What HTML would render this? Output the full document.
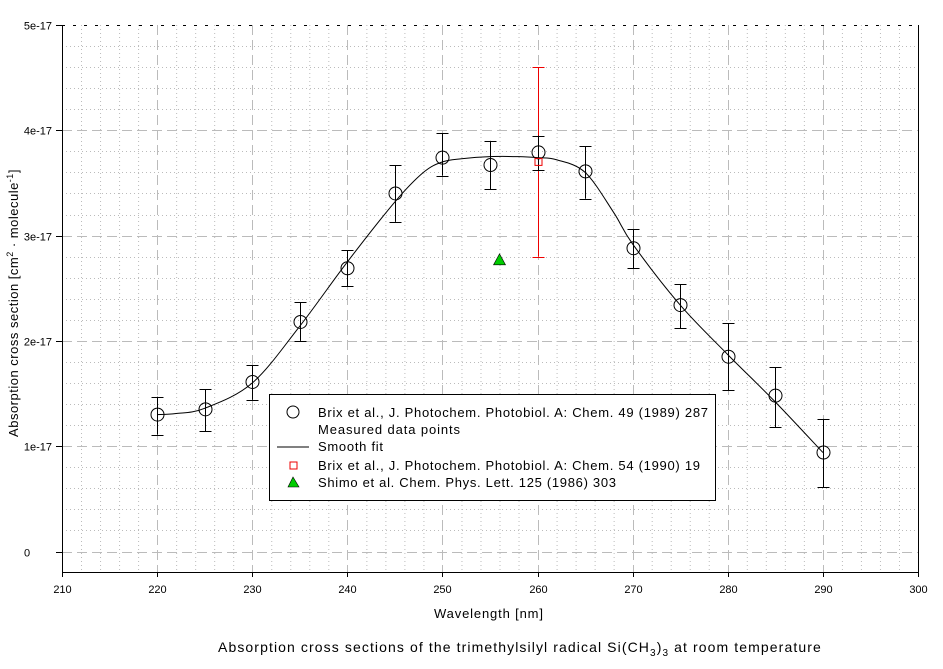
<!DOCTYPE html>
<html><head><meta charset="utf-8"><style>
body{margin:0;background:#fff;width:943px;height:664px;overflow:hidden}
svg{font-family:"Liberation Sans",sans-serif}
</style></head><body>
<svg id="chart" width="943" height="664">
<g id="grid"></g>
<g id="axes"></g>
<g id="marks"></g>
<text x="434" y="618" font-size="13" textLength="109" lengthAdjust="spacing">Wavelength [nm]</text>
<text transform="translate(18,303) rotate(-90)" font-size="13" text-anchor="middle" letter-spacing="0.5">Absorption cross section [cm<tspan dy="-5" font-size="9">2</tspan><tspan dy="5"> · molecule</tspan><tspan dy="-5" font-size="9">-1</tspan><tspan dy="5">]</tspan></text>
<text x="218" y="652" font-size="14" letter-spacing="1.1">Absorption cross sections of the trimethylsilyl radical Si(CH<tspan dy="4" font-size="10">3</tspan><tspan dy="-4">)</tspan><tspan dy="4" font-size="10">3</tspan><tspan dy="-4"> at room temperature</tspan></text>
<g>
<rect x="269.5" y="394.5" width="446" height="106" fill="#fff" stroke="#000"/>
<circle cx="293" cy="412" r="6" fill="none" stroke="#000"/>
<text x="318" y="417" font-size="13" textLength="390" lengthAdjust="spacing">Brix et al., J. Photochem. Photobiol. A: Chem. 49 (1989) 287</text>
<text x="318" y="434" font-size="13" textLength="142" lengthAdjust="spacing">Measured data points</text>
<line x1="277" y1="447" x2="309" y2="447" stroke="#000"/>
<text x="318" y="451" font-size="13" textLength="65" lengthAdjust="spacing">Smooth fit</text>
<rect x="290" y="462" width="7" height="7" fill="none" stroke="#e00"/>
<text x="318" y="470" font-size="13" textLength="382" lengthAdjust="spacing">Brix et al., J. Photochem. Photobiol. A: Chem. 54 (1990) 19</text>
<polygon points="293,477 288,487 299,487" fill="#0c0" stroke="#000" stroke-width="0.6"/>
<text x="318" y="487" font-size="13" textLength="298" lengthAdjust="spacing">Shimo et al. Chem. Phys. Lett. 125 (1986) 303</text>
</g>
</svg>
<script>
const xTicks=[210,220,230,240,250,260,270,280,290,300];
const yTicks=[0,1,2,3,4,5];
const yTickLabels=["0","1e-17","2e-17","3e-17","4e-17","5e-17"];
const brixX=[220,225,230,235,240,245,250,255,260,265,270,275,280,285,290];
const brixY=[1.30,1.35,1.61,2.18,2.69,3.40,3.74,3.67,3.79,3.61,2.88,2.34,1.85,1.48,0.94];
const brixLo=[1.11,1.14,1.44,2.00,2.52,3.13,3.57,3.44,3.62,3.35,2.69,2.12,1.53,1.18,0.61];
const brixHi=[1.47,1.54,1.77,2.37,2.86,3.67,3.97,3.90,3.95,3.85,3.06,2.54,2.17,1.75,1.26];
const fitX=[220,222,225,230,235,240,245,248,250,252,255,258,260,262,265,268,270,275,280,285,290];
const fitY=[1.30,1.31,1.36,1.60,2.14,2.75,3.32,3.60,3.70,3.73,3.75,3.75,3.74,3.72,3.60,3.22,2.92,2.34,1.87,1.42,0.94];
const brix90X=[260], brix90Y=[3.70], brix90Lo=[2.80], brix90Hi=[4.60];
const shimoX=[256], shimoY=[2.77];

const X0=62,X1=918,YB=572,YT=25;
const sx=v=>X0+(v-210)*(X1-X0)/90;
const sy=v=>551.5-v*105.3;
const NS='http://www.w3.org/2000/svg';
function mk(parent,tag,attrs){const e=document.createElementNS(NS,tag);for(const k in attrs)e.setAttribute(k,attrs[k]);document.getElementById(parent).appendChild(e);return e;}
for(let v=212;v<300;v+=2){if(v%10===0)continue;const e=mk('grid','line',{x1:sx(v)+.5,x2:sx(v)+.5,y1:YT,y2:YB,stroke:'#bbb','stroke-dasharray':'1,3'});

}
for(let i=-1;i<25;i++){const v=i*0.2;if(i%5===0)continue;const y=Math.round(sy(v))+.5;if(y>YB||y<YT)continue;const e=mk('grid','line',{x1:X0,x2:X1,y1:y,y2:y,stroke:'#bbb','stroke-dasharray':'1,3'});

}
xTicks.forEach(v=>{if(v===210||v===300)return;const e=mk('grid','line',{x1:Math.round(sx(v))+.5,x2:Math.round(sx(v))+.5,y1:YT,y2:YB,stroke:'#bbb','stroke-dasharray':'10,5'});

});
yTicks.forEach(v=>{const y=Math.round(sy(v))+.5;const e=mk('grid','line',{x1:X0,x2:X1,y1:y,y2:y,stroke:v===5?'#000':'#bbb','stroke-dasharray':v===5?'3,8':'10,5'});

});
mk('axes','line',{x1:X0+.5,x2:X0+.5,y1:YT,y2:YB+5,stroke:'#000'});
mk('axes','line',{x1:X0,x2:X1+1,y1:YB+.5,y2:YB+.5,stroke:'#000'});
mk('axes','line',{x1:X1+.5,x2:X1+.5,y1:YT,y2:YB,stroke:'#000'});
xTicks.forEach(v=>{const x=Math.round(sx(v))+.5;mk('axes','line',{x1:x,x2:x,y1:YB,y2:YB+5,stroke:'#000'});
const t=mk('axes','text',{x:x,y:593,'font-size':11,'text-anchor':'middle'});t.textContent=v;

});
yTicks.forEach((v,i)=>{const y=Math.round(sy(v))+.5;mk('axes','line',{x1:56,x2:X0,y1:y,y2:y,stroke:'#000'});
const t=mk('axes','text',{x:i===0?27:52,y:y+4,'font-size':11,'text-anchor':i===0?'middle':'end'});t.textContent=yTickLabels[i];

});
const P=fitX.map((x,i)=>[sx(x),sy(fitY[i])]);
let d='M'+P[0][0]+','+P[0][1];
for(let i=0;i<P.length-1;i++){const p0=P[Math.max(0,i-1)],p1=P[i],p2=P[i+1],p3=P[Math.min(P.length-1,i+2)];
d+=' C'+(p1[0]+(p2[0]-p0[0])/6)+','+(p1[1]+(p2[1]-p0[1])/6)+' '+(p2[0]-(p3[0]-p1[0])/6)+','+(p2[1]-(p3[1]-p1[1])/6)+' '+p2[0]+','+p2[1];}
const fit=mk('marks','path',{d:d,fill:'none',stroke:'#000','stroke-width':1});


function errbar(x,lo,hi,col,name){const X=Math.round(sx(x))+.5;const g=mk('marks','g',{stroke:col});


const l=document.createElementNS(NS,'line');l.setAttribute('x1',X);l.setAttribute('x2',X);l.setAttribute('y1',sy(lo));l.setAttribute('y2',sy(hi));g.appendChild(l);
[lo,hi].forEach(v=>{const c=document.createElementNS(NS,'line');c.setAttribute('x1',X-6);c.setAttribute('x2',X+6);c.setAttribute('y1',Math.round(sy(v))+.5);c.setAttribute('y2',Math.round(sy(v))+.5);g.appendChild(c);});}
brix90X.forEach((x,i)=>errbar(x,brix90Lo[i],brix90Hi[i],'#e00','error-bar-brix-1990'));
brixX.forEach((x,i)=>{errbar(x,brixLo[i],brixHi[i],'#000','error-bar-brix-1989');
const c=mk('marks','circle',{cx:Math.round(sx(x))+.5,cy:sy(brixY[i]),r:6.5,fill:'none',stroke:'#000'});

});
brix90X.forEach((x,i)=>{const r=mk('marks','rect',{x:Math.round(sx(x))-3,y:sy(brix90Y[i])-3.5,width:7,height:7,fill:'none',stroke:'#e00'});

});
shimoX.forEach((x,i)=>{const X=sx(x),Y=sy(shimoY[i]);const p=mk('marks','polygon',{points:`${X},${Y-6} ${X-6},${Y+5} ${X+6},${Y+5}`,fill:'#0c0',stroke:'#000','stroke-width':0.6});

});
</script>
</body></html>
